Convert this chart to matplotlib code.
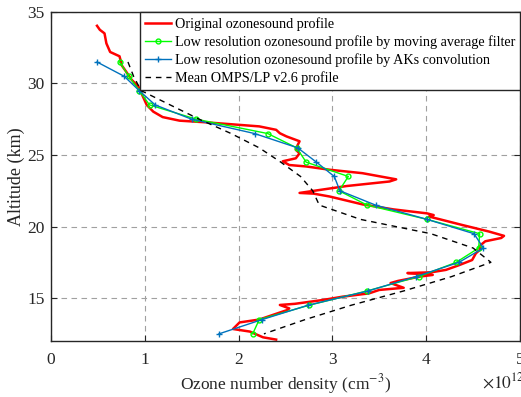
import matplotlib
matplotlib.use("Agg")
import matplotlib.pyplot as plt

plt.rcParams['font.family'] = ['Liberation Serif', 'DejaVu Serif']
plt.rcParams['mathtext.fontset'] = 'stix'

# original ozonesonde profile (x in 1e12 cm^-3, altitude in km)
orig_x = [0.49, 0.52, 0.57, 0.59, 0.63, 0.73, 0.74, 0.75, 0.80, 0.86, 0.93, 0.98,
          1.02, 1.09, 1.19, 1.37, 1.66, 2.22, 2.40, 2.44, 2.51, 2.65, 2.63, 2.61,
          2.65, 2.61, 2.47, 2.54, 2.72, 2.97, 3.32, 3.68, 3.61, 3.15, 2.65, 2.80,
          2.97, 3.32, 3.65, 4.01, 4.08, 4.03, 4.39, 4.67, 4.83, 4.80, 4.63, 4.58,
          4.57, 4.53, 4.49, 4.35, 4.21, 4.05, 3.80, 4.07, 3.93, 3.70, 3.62, 3.76,
          3.50, 3.39, 3.11, 2.90, 2.60, 2.44, 2.54, 2.52, 2.22, 2.01, 1.94, 2.12,
          2.26, 2.40]
orig_y = [34.03, 33.75, 33.5, 32.8, 32.2, 31.9, 31.65, 31.3, 30.83, 30.25, 29.8, 29.08,
          28.5, 28.03, 27.65, 27.4, 27.28, 27.0, 26.76, 26.52, 26.3, 25.96, 25.7, 25.36,
          25.12, 24.77, 24.56, 24.3, 24.2, 23.97, 23.73, 23.3, 23.15, 22.83, 22.35, 22.3,
          22.1, 21.55, 21.2, 20.92, 20.8, 20.7, 20.1, 19.65, 19.35, 19.2, 18.97, 18.7,
          18.36, 18.13, 17.66, 17.3, 16.97, 16.8, 16.75, 16.62, 16.5, 16.2, 16.05, 15.72,
          15.57, 15.33, 15.1, 14.87, 14.6, 14.52, 14.28, 14.17, 13.5, 13.3, 12.84, 12.66,
          12.26, 12.1]

alt_low = [31.5, 30.5, 29.5, 28.5, 27.5, 26.5, 25.5, 24.5, 23.5, 22.5,
           21.5, 20.5, 19.5, 18.5, 17.5, 16.5, 15.5, 14.5, 13.5, 12.5]
# moving average filter
mavg_x = [0.73, 0.83, 0.94, 1.05, 1.55, 2.31, 2.62, 2.72, 3.17, 3.07,
          3.37, 4.01, 4.57, 4.56, 4.32, 3.92, 3.37, 2.75, 2.22, 2.15]
# AKs convolution
ak_x = [0.49, 0.78, 0.94, 1.11, 1.50, 2.17, 2.63, 2.83, 3.02, 3.08,
        3.46, 4.01, 4.51, 4.61, 4.35, 3.89, 3.38, 2.74, 2.25, 1.79]
# mean OMPS/LP v2.6
omps_x = [0.82, 0.88, 0.96, 1.27, 1.58, 1.92, 2.22, 2.45, 2.66, 2.79,
          2.86, 3.30, 4.05, 4.50, 4.69, 4.27, 3.76, 3.20, 2.71, 2.27]

fig = plt.figure(figsize=(5.21, 3.97), dpi=100)
ax = fig.add_axes([0.098, 0.141, 0.900, 0.829])

ax.plot(orig_x, orig_y, color='#ff0000', lw=1.8, label='Original ozonesound profile')
ax.plot(mavg_x, alt_low, color='#00ff00', lw=1.0, marker='o', ms=3.5, mfc='none',
        mew=1.0, label='Low resolution ozonesound profile by moving average filter')
ax.plot(ak_x, alt_low, color='#0072bd', lw=1.0, marker='+', ms=4, mew=1.0,
        label='Low resolution ozonesound profile by AKs convolution')
ax.plot(omps_x, alt_low, color='black', lw=1.0, ls=(0, (4, 3.5)),
        label='Mean OMPS/LP v2.6 profile')

ax.set_xlim(0, 5)
ax.set_ylim(12, 35)
ax.set_xticks([0, 1, 2, 3, 4, 5])
ax.set_yticks([15, 20, 25, 30, 35])
ax.tick_params(direction='in', length=4, top=True, right=True, labelsize=12.5,
               colors='#262626')
ax.tick_params(axis='x', pad=8)
ax.tick_params(axis='y', pad=4.5)
ax.grid(True, color='#a0a0a0', ls=(0, (5, 4)), lw=0.8)
for s in ax.spines.values():
    s.set_color('#262626')
    s.set_linewidth(1.0)

ax.set_xlabel('Ozone number density (cm$^{-3}$)', fontsize=12.5, color='#262626', labelpad=3)
ax.set_ylabel('Altitude (km)', fontsize=13, color='#262626', labelpad=2)
ax.text(0.919, -0.095, r'$\times10^{12}$', transform=ax.transAxes, ha='left', va='top',
        fontsize=12.5, color='#262626')

leg = ax.legend(loc='upper right', fontsize=10.2, borderaxespad=0, fancybox=False,
                framealpha=1, edgecolor='#262626', handlelength=1.85, handletextpad=0.25,
                labelspacing=0.3, borderpad=0.35)
leg.get_frame().set_linewidth(1.0)

fig.savefig('out.png', dpi=100)
